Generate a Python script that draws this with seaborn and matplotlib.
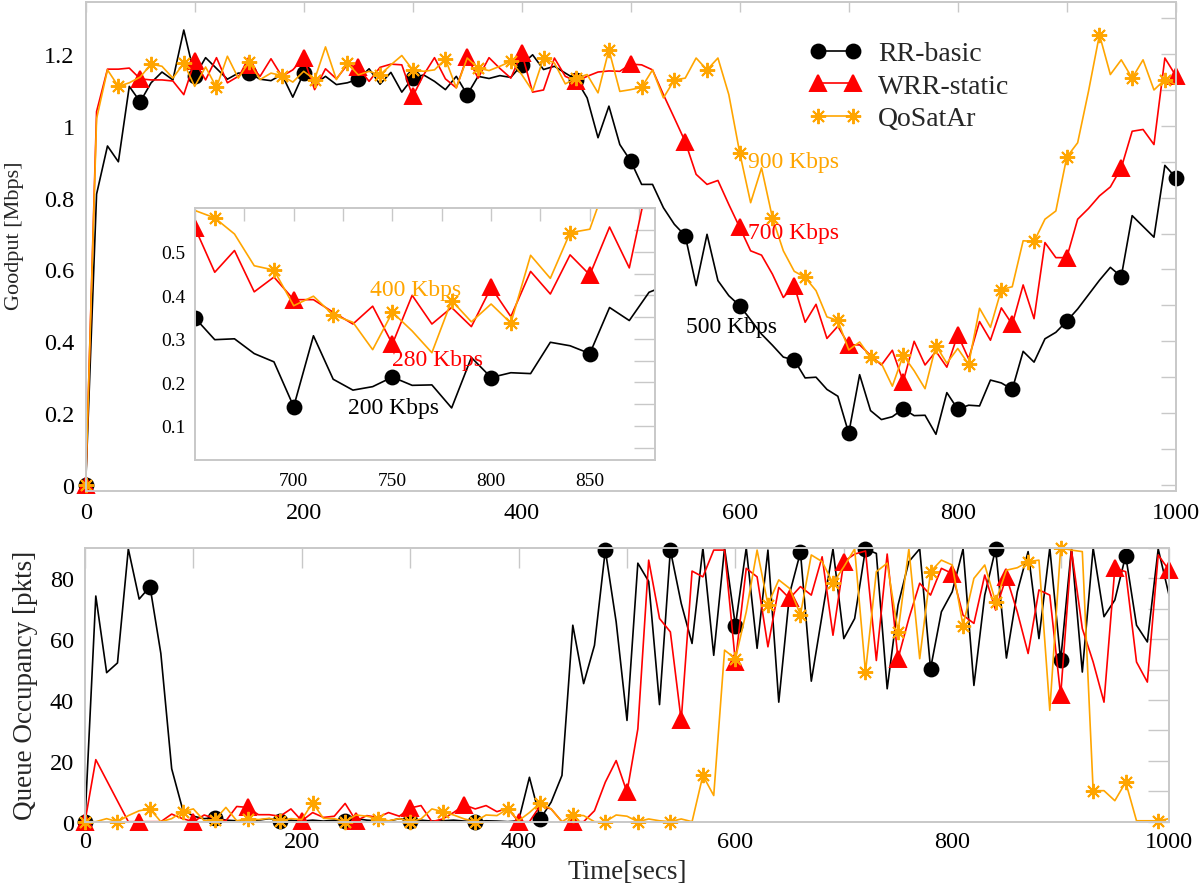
#%%
import numpy as np
import pandas as pd
import matplotlib
matplotlib.use('Agg')
import matplotlib.pyplot as plt
import seaborn as sns
from matplotlib.ticker import MultipleLocator, FormatStrFormatter

#%% 데이터 : 10초 간격 측정값
time_sec = np.arange(0, 1001, 10)

rr_goodput = [0, 0.81, 0.944, 0.90, 1.11, 1.067, 1.12, 1.15, 1.128, 1.267,
              1.138, 1.19, 1.16, 1.13, 1.147, 1.147, 1.13, 1.126, 1.143, 1.08,
              1.147, 1.115, 1.138, 1.115, 1.12, 1.13, 1.159, 1.116, 1.149, 1.094,
              1.133, 1.142, 1.124, 1.101, 1.138, 1.087, 1.138, 1.132, 1.14, 1.135,
              1.17, 1.198, 1.157, 1.166, 1.147, 1.129, 1.078, 0.967, 1.055, 0.948,
              0.902, 0.837, 0.837, 0.772, 0.726, 0.694, 0.555, 0.698, 0.569, 0.527,
              0.499, 0.46, 0.42, 0.389, 0.356, 0.348, 0.298, 0.30, 0.266, 0.247,
              0.144, 0.307, 0.207, 0.182, 0.19, 0.212, 0.193, 0.194, 0.141, 0.257,
              0.211, 0.222, 0.22, 0.292, 0.284, 0.266, 0.372, 0.342, 0.407, 0.425,
              0.456, 0.49, 0.53, 0.57, 0.606, 0.58, 0.75, 0.72, 0.69, 0.89,
              0.856]

wrr_goodput = [0, 1.04, 1.158, 1.158, 1.161, 1.131, 1.128, 1.128, 1.125, 1.087,
               1.18, 1.128, 1.19, 1.12, 1.138, 1.17, 1.138, 1.187, 1.138, 1.156,
               1.189, 1.101, 1.159, 1.131, 1.17, 1.163, 1.124, 1.163, 1.172, 1.17,
               1.082, 1.142, 1.19, 1.131, 1.106, 1.193, 1.133, 1.19, 1.16, 1.133,
               1.203, 1.094, 1.10, 1.189, 1.138, 1.124, 1.138, 1.15, 1.153, 1.152,
               1.172, 1.17, 1.156, 1.087, 1.022, 0.956, 0.865, 0.837, 0.848, 0.781,
               0.717, 0.652, 0.64, 0.587, 0.522, 0.555, 0.453, 0.503, 0.408, 0.442,
               0.39, 0.39, 0.361, 0.334, 0.375, 0.288, 0.40, 0.334, 0.372, 0.328,
               0.418, 0.351, 0.455, 0.403, 0.493, 0.447, 0.557, 0.463, 0.675, 0.633,
               0.633, 0.74, 0.77, 0.805, 0.83, 0.883, 0.985, 0.99, 0.948, 1.189,
               1.14]

qos_goodput = [0, 1.02, 1.156, 1.11, 1.12, 1.136, 1.172, 1.166, 1.133, 1.175,
               1.11, 1.164, 1.107, 1.194, 1.133, 1.178, 1.129, 1.147, 1.14, 1.122,
               1.152, 1.129, 1.22, 1.129, 1.175, 1.142, 1.152, 1.142, 1.17, 1.196,
               1.156, 1.152, 1.156, 1.186, 1.106, 1.189, 1.161, 1.154, 1.166, 1.18,
               1.143, 1.097, 1.189, 1.175, 1.117, 1.133, 1.143, 1.092, 1.212, 1.096,
               1.101, 1.107, 1.156, 1.078, 1.128, 1.133, 1.189, 1.156, 1.189, 1.087,
               0.925, 0.786, 0.883, 0.744, 0.652, 0.595, 0.578, 0.541, 0.468, 0.458,
               0.376, 0.398, 0.355, 0.338, 0.275, 0.361, 0.318, 0.268, 0.388, 0.339,
               0.38, 0.336, 0.492, 0.439, 0.544, 0.552, 0.68, 0.678, 0.74, 0.763,
               0.913, 0.953, 1.097, 1.254, 1.143, 1.184, 1.133, 1.184, 1.10, 1.129,
               1.115]

rr_queue = [0, 74.2, 49, 52.2, 89.7, 73.2, 77.3, 55.3, 17.4, 4.2,
            1.8, 1, 1.3, 0.5, 0.3, 0.2, 0.5, 1, 0.3, 0.5,
            0.2, 0.5, 0.2, 0.5, 0.3, 1, 0.5, 0.3, 0.2, 1,
            0.3, 0.5, 0.2, 0.3, 0.5, 0.2, 0, 0.3, 0.2, 0,
            0.3, 14.6, 0.9, 6.4, 15.2, 64.6, 45.4, 58, 89.3, 65.7,
            33.3, 85, 79, 38.5, 89.3, 71.8, 58.6, 90, 54.7, 90,
            64.4, 90, 57, 89.3, 39.3, 75, 88.6, 46.2, 68, 89.7,
            60.2, 66.8, 89.7, 88.2, 43.7, 71.2, 85.5, 89.7, 50.3, 69,
            75.6, 89.7, 44.8, 74.5, 89.7, 53.8, 75.6, 88.8, 60.2, 90,
            53, 90, 49.2, 90, 67.4, 72.9, 87.5, 64.6, 59.1, 89.7,
            74.5]

wrr_queue = [0, 20.4, 13.6, 6.8, 0, 0, 0, 0, 2.5, 1,
             0, 2.2, 1, 0.3, 5, 4.7, 2.3, 2.3, 1.8, 4.2,
             0.3, 3, 1.4, 1.8, 6, 0.3, 2, 1.4, 3, 1.8,
             4.5, 5.3, 0, 0.9, 3, 5.5, 4.2, 5.3, 3.3, 4.4,
             0, 0, 5.3, 4.2, 0, 0, 0, 3.6, 13, 20.1,
             9.7, 30.5, 86, 66.8, 62.4, 33.3, 82.4, 80.5, 89.3, 89.3,
             52.5, 83.3, 80.5, 57.5, 77, 73.4, 77.3, 74.5, 87.1, 61.3,
             85.5, 88, 89, 53, 88, 53.6, 66.8, 78.4, 74.5, 83.3,
             81.6, 67.9, 65.2, 81.1, 69.6, 80.5, 69, 55.3, 76.2, 74.5,
             41.5, 89.3, 63.5, 52.5, 39.3, 83.3, 82.2, 52.5, 45.9, 87.7,
             82.7]

qos_queue = [0, 0, 1, 0, 2, 3.6, 4.2, 0, 1, 3.3,
             4.2, 0.3, 0.7, 4.7, 0.3, 1, 0.7, 1.1, 0.3, 1,
             0.7, 6.2, 1.1, 1, 0, 2.2, 1.8, 1, 0.3, 1,
             0, 0.9, 4.2, 3.3, 2.2, 0.9, 0, 2.2, 2, 4.2,
             0.3, 3, 6.2, 4.2, 0, 2.2, 2, 0, 0, 2.2,
             1.8, 0, 0.9, 0.3, 0, 0.9, 0, 15.2, 8.6, 56.4,
             53.6, 69, 89.3, 71.4, 79.5, 76.7, 68.1, 87.7, 85.5, 78.4,
             83.8, 89.7, 49.2, 82.2, 85, 62.4, 89.7, 53.6, 82.2, 86,
             84.4, 64.4, 80, 84.4, 72.3, 82.7, 83.5, 85.5, 86, 36.6,
             90, 89.3, 88.8, 10.2, 10.2, 6.9, 13, 0.3, 0.3, 0.3,
             1]

names = ['RR-basic', 'WRR-static', 'QoSatAr']

goodput = pd.DataFrame({'time': time_sec, 'RR-basic': rr_goodput,
                        'WRR-static': wrr_goodput, 'QoSatAr': qos_goodput})
queue = pd.DataFrame({'time': time_sec, 'RR-basic': rr_queue,
                      'WRR-static': wrr_queue, 'QoSatAr': qos_queue})

#%% 스타일
sns.set_style('white')
plt.rcParams['font.family'] = ['Liberation Serif', 'DejaVu Serif']

style = {
    'RR-basic':   dict(color='black',  marker='o',       ms=10),
    'WRR-static': dict(color='red',    marker='^',       ms=11.5),
    'QoSatAr':    dict(color='orange', marker=(8, 2, 0), ms=11),
}
GREY = '#c8c8c8'


def draw(ax, df, every, clip):
    for name, k in zip(names, every):
        st = style[name]
        sns.lineplot(x=df['time'], y=df[name], ax=ax, estimator=None, sort=False,
                     errorbar=None, legend=False, label=name,
                     color=st['color'], marker=st['marker'], markersize=st['ms'],
                     markevery=k, markeredgecolor=st['color'],
                     markerfacecolor=st['color'], markeredgewidth=1.4,
                     linewidth=1.2, clip_on=clip)
    ax.set_xlabel('')
    ax.set_ylabel('')


def frame(ax, xlen, ylen, size, xpad, ypad):
    ax.tick_params(which='both', direction='in', top=True, right=True,
                   color=GREY, width=1.0, labelsize=size, labelcolor='black')
    ax.tick_params(axis='x', which='both', length=xlen, pad=xpad)
    ax.tick_params(axis='y', which='both', length=ylen, pad=ypad)
    for sp in ax.spines.values():
        sp.set_color(GREY)
        sp.set_linewidth(1.4)


#%% 그림
fig = plt.figure(figsize=(12, 8.87), dpi=100)

ax1 = fig.add_axes([0.0714, 0.4453, 0.9084, 0.5513])
draw(ax1, goodput, [5, 5, 3], False)
ax1.set_xlim(0, 1000)
ax1.set_ylim(-0.017, 1.345)
ax1.xaxis.set_major_locator(MultipleLocator(200))
ax1.xaxis.set_minor_locator(MultipleLocator(100))
ax1.yaxis.set_major_locator(MultipleLocator(0.2))
ax1.yaxis.set_minor_locator(MultipleLocator(0.1))
ax1.yaxis.set_major_formatter(FormatStrFormatter('%g'))
frame(ax1, 7, 11, 17.5, 8, 8)

ax1.text(607.6, 0.901, '900 Kbps', color='orange', fontsize=17, va='center')
ax1.text(607.6, 0.703, '700 Kbps', color='red', fontsize=17, va='center')
ax1.text(550.7, 0.441, '500 Kbps', color='black', fontsize=17, va='center')

handles, labels = ax1.get_legend_handles_labels()
ax1.legend(handles, labels, loc='upper left', bbox_to_anchor=(810 / 1200, 1 - 42 / 887),
           bbox_transform=fig.transFigure, frameon=False, numpoints=2,
           fontsize=20, handlelength=1.85, handletextpad=0.6,
           labelspacing=0.25, borderpad=0, borderaxespad=0)

# 확대 (inset)
axin = fig.add_axes([0.1625, 0.4806, 0.3833, 0.2834])
axin.set_facecolor('white')
draw(axin, goodput, [5, 5, 3], True)
axin.set_xlim(650, 883)
axin.set_ylim(0.022, 0.6)
axin.xaxis.set_major_locator(MultipleLocator(50))
axin.xaxis.set_minor_locator(MultipleLocator(25))
axin.yaxis.set_major_locator(MultipleLocator(0.1))
axin.yaxis.set_minor_locator(MultipleLocator(0.05))
axin.yaxis.set_major_formatter(FormatStrFormatter('%g'))
frame(axin, 9, 15, 14, 9, 7)
axin.set_xticks([700, 750, 800, 850])
axin.set_yticks([0.1, 0.2, 0.3, 0.4, 0.5])
axin.text(738.8, 0.4125, '400 Kbps', color='orange', fontsize=17, va='center')
axin.text(749.8, 0.2525, '280 Kbps', color='red', fontsize=17, va='center')
axin.text(727.7, 0.143, '200 Kbps', color='black', fontsize=17, va='center')

ax2 = fig.add_axes([0.0708, 0.0725, 0.9034, 0.3086])
draw(ax2, queue, [6, 5, 3], False)
ax2.set_xlim(0, 1000)
ax2.set_ylim(0, 90)
ax2.xaxis.set_major_locator(MultipleLocator(200))
ax2.xaxis.set_minor_locator(MultipleLocator(100))
ax2.yaxis.set_major_locator(MultipleLocator(20))
ax2.yaxis.set_minor_locator(MultipleLocator(10))
frame(ax2, 14.5, 15, 17.5, 7, 8)

fig.text(15 / 1200, 1 - 236 / 887, 'Goodput [Mbps]', rotation=90,
         ha='center', va='center', fontsize=16)
fig.text(26 / 1200, 1 - 685 / 887, 'Queue Occupancy [pkts]', rotation=90,
         ha='center', va='center', fontsize=19.5)
fig.text(627 / 1200, 1 - 873 / 887, 'Time[secs]', ha='center', va='center',
         fontsize=19.5)

fig.savefig('out.png', dpi=100)
